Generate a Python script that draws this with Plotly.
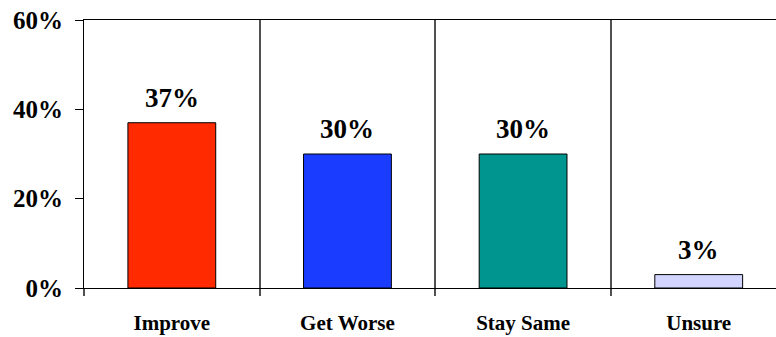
import plotly.graph_objects as go

categories = ["Improve", "Get Worse", "Stay Same", "Unsure"]
values = [37, 30, 30, 3]
colors = ["#FF2A00", "#1A3CFF", "#00958F", "#D2D5FF"]
y_ticks = [0, 20, 40, 60]

FONT = "Liberation Serif"

fig = go.Figure()
fig.add_trace(go.Bar(
    x=categories,
    y=values,
    width=0.5,
    marker=dict(color=colors, line=dict(color="#000000", width=1)),
    cliponaxis=False,
))

for c, v in zip(categories, values):
    fig.add_annotation(
        x=c, y=v, text=f"<b>{v}%</b>", showarrow=False,
        xanchor="center", yanchor="bottom", yshift=8,
        font=dict(family=FONT, size=27, color="#000000"),
    )

fig.update_layout(
    width=776,
    height=337,
    margin=dict(l=84, r=0, t=20, b=49),
    paper_bgcolor="white",
    plot_bgcolor="white",
    showlegend=False,
    font=dict(family=FONT),
    xaxis=dict(
        type="category",
        range=[-0.5, 3.44],
        tickvals=categories,
        ticktext=[f"<b>{c}</b>" for c in categories],
        showline=True, linecolor="#000000", linewidth=1, mirror=True,
        showgrid=True, gridcolor="#505050", gridwidth=1.5,
        tickson="boundaries",
        ticks="outside", ticklen=7, tickcolor="#505050", tickwidth=1.5,
        tickfont=dict(family=FONT, size=21, color="#000000"),
        ticklabelstandoff=16,
    ),
    yaxis=dict(
        range=[0, 60],
        tickvals=y_ticks,
        ticktext=[f"<b>{t}%</b>" for t in y_ticks],
        showline=True, linecolor="#000000", linewidth=1,
        showgrid=False, zeroline=False,
        ticks="outside", ticklen=8, tickcolor="#000000", tickwidth=1,
        tickfont=dict(family=FONT, size=25, color="#000000"),
        ticklabelstandoff=7,
    ),
    bargap=0.5,
)

fig.write_html("out.html")
